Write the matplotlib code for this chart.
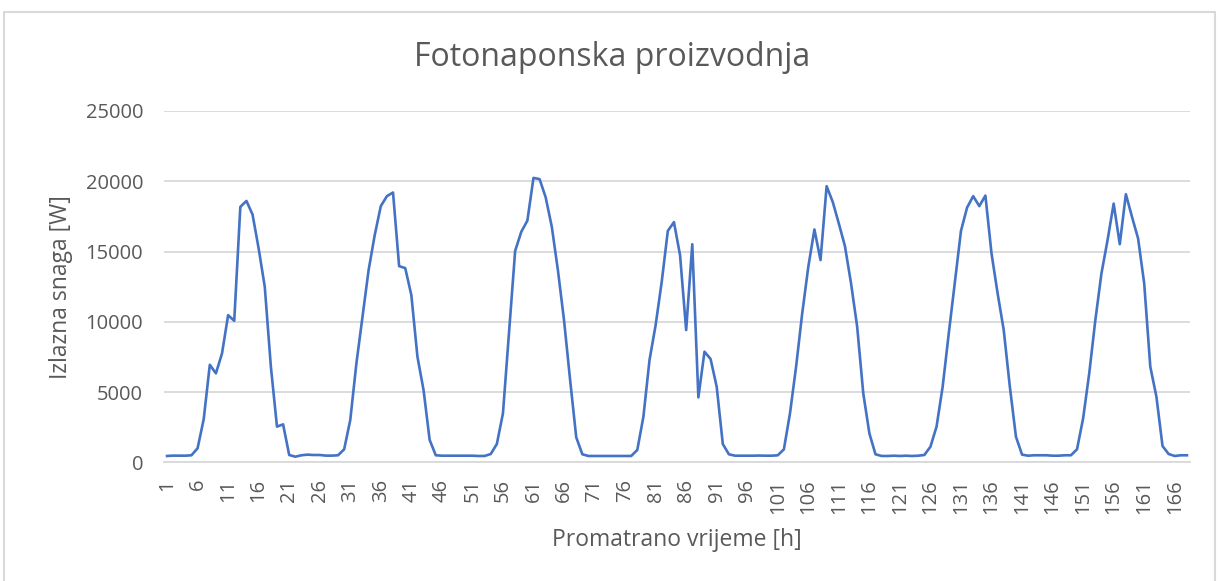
import matplotlib

matplotlib.use("Agg")
import matplotlib.pyplot as plt
import numpy as np
from matplotlib.patches import Rectangle

# PV output per hour, one list per day (24 h each)
day1 = [450, 475, 470, 470, 500, 1000, 3060, 6940, 6330, 7750, 10470, 10070,
        18180, 18600, 17630, 15210, 12490, 6800, 2540, 2700, 520, 400, 500, 545]
day2 = [520, 520, 475, 475, 500, 925, 3010, 7020, 10350, 13670, 16160, 18230,
        18940, 19200, 13960, 13820, 11900, 7510, 5140, 1590, 500, 470, 470, 470]
day3 = [470, 470, 470, 450, 450, 590, 1300, 3480, 9300, 15050, 16400, 17200,
        20240, 20150, 18850, 16760, 13670, 10120, 5850, 1780, 570, 450, 450, 450]
day4 = [450, 450, 450, 450, 450, 880, 3250, 7280, 9760, 12850, 16470, 17090,
        14740, 9410, 15520, 4620, 7870, 7350, 5380, 1300, 570, 470, 470, 470]
day5 = [470, 480, 470, 470, 500, 920, 3480, 6800, 10590, 13910, 16570, 14390,
        19650, 18530, 16990, 15380, 12730, 9650, 4910, 2060, 570, 450, 450, 470]
day6 = [450, 470, 450, 470, 520, 1110, 2540, 5380, 9170, 12850, 16470, 18130,
        18940, 18230, 18980, 14860, 12020, 9410, 5380, 1820, 545, 470, 500, 500]
day7 = [500, 470, 470, 500, 500, 925, 3130, 6330, 10120, 13440, 15810, 18410,
        15520, 19080, 17470, 15930, 12730, 6800, 4670, 1160, 590, 450, 500, 500]

power = np.array(day1 + day2 + day3 + day4 + day5 + day6 + day7)
hours = np.arange(1, len(power) + 1)
xticks = list(range(1, len(power) + 1, 5))
yticks = [0, 5000, 10000, 15000, 20000, 25000]

GREY = "#595959"
GRID = "#D9D9D9"
plt.rcParams["font.family"] = ["Open Sans", "DejaVu Sans"]

fig = plt.figure(figsize=(12.2, 5.81), dpi=100)
fig.patches.append(Rectangle((4 / 1220, -0.05), 1211 / 1220, 1.05 - 12 / 581,
                             transform=fig.transFigure, fill=False,
                             edgecolor=GRID, lw=1.5))
ax = fig.add_axes([164 / 1220, 1 - 462.3 / 581, 1026 / 1220, 351.3 / 581])

ax.plot(hours, power, color="#4472C4", lw=1.9)

ax.set_xlim(0.5, len(power) + 0.5)
ax.set_ylim(0, 25000)
ax.set_yticks(yticks)
ax.set_xticks(xticks)
ax.set_xticklabels([str(t) for t in xticks], rotation=90)
ax.grid(axis="y", color=GRID, lw=1.3)
ax.set_axisbelow(True)
for s in ["top", "right", "left"]:
    ax.spines[s].set_visible(False)
ax.spines["bottom"].set_color(GRID)
ax.spines["bottom"].set_linewidth(1.3)
ax.tick_params(axis="y", length=0, pad=15, labelsize=14.5, labelcolor=GREY)
ax.tick_params(axis="x", length=0, pad=12, labelsize=14.5, labelcolor=GREY)

ax.set_ylabel("Izlazna snaga [W]", fontsize=16.5, color=GREY, labelpad=9)
ax.set_xlabel("Promatrano vrijeme [h]", fontsize=16.5, color=GREY, labelpad=10)
fig.text(0.5016, 1 - 58 / 581, "Fotonaponska proizvodnja", ha="center",
         va="center", fontsize=23, color=GREY)

fig.savefig("out.png", dpi=100)
